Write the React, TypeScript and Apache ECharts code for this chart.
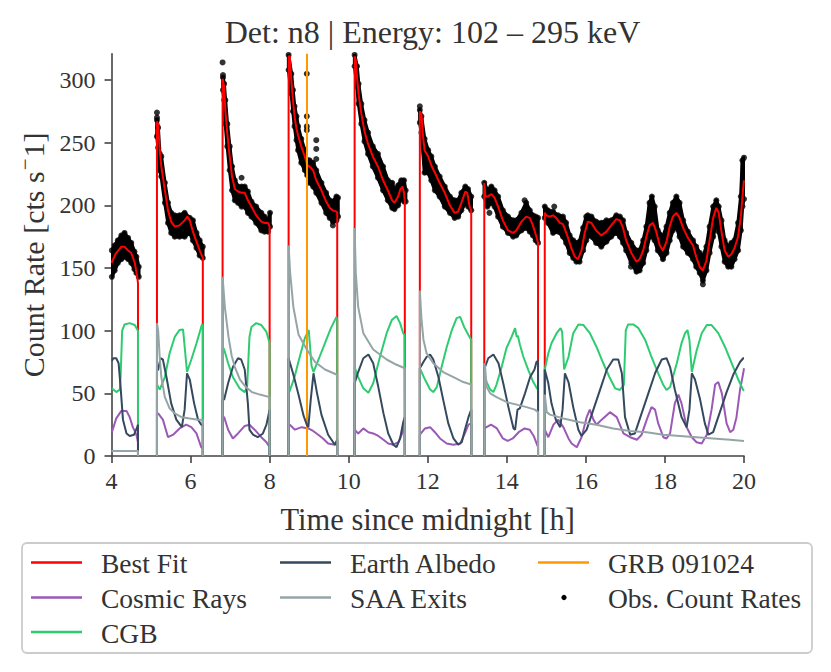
import React, { useEffect, useRef } from "react";
import * as echarts from "echarts";

const FONT = "'Liberation Serif', 'Times New Roman', serif";
const TEXT = "#333333";
const AXIS = "#444444";

const titleText = "Det: n8 | Energy: 102 – 295 keV";
const xName = "Time since midnight [h]";
const yNameMain = "Count Rate [cts s";
const yNameSup = "−";
const yNameEnd = "1]";
const xTicks = [4, 6, 8, 10, 12, 14, 16, 18, 20];
const yTicks = [0, 50, 100, 150, 200, 250, 300];
const grbTime = 8.94;

const legendCol1 = ["Best Fit", "Cosmic Rays", "CGB"];
const legendCol2 = ["Earth Albedo", "SAA Exits"];
const legendCol3 = ["GRB 091024", "Obs. Count Rates"];

const COLORS: Record<string, string> = {
  "Best Fit": "#ff0000",
  "Cosmic Rays": "#9b59b6",
  CGB: "#2ecc71",
  "Earth Albedo": "#34495e",
  "SAA Exits": "#95a5a6",
  "GRB 091024": "#ff9900",
  "Obs. Count Rates": "#000000",
};

const bestFit = [
  [4.0, 154], [4.1, 161], [4.25, 167], [4.33, 167], [4.42, 164], [4.5, 162], [4.59, 154], [4.65, 143], [4.67, 138], [4.67, 0], [4.9, null],
  [5.15, 0], [5.15, 267], [5.18, 265], [5.22, 244], [5.26, 231], [5.35, 212], [5.43, 196], [5.51, 187], [5.6, 183], [5.72, 184], [5.85, 188], [5.92, 191], [5.98, 188], [6.06, 179], [6.15, 171], [6.23, 164], [6.31, 158], [6.31, 0], [6.55, null],
  [6.81, 0], [6.81, 301], [6.85, 295], [6.88, 276], [6.93, 257], [6.99, 239], [7.05, 223], [7.12, 213], [7.2, 211], [7.29, 210], [7.37, 210], [7.45, 204], [7.54, 199], [7.66, 192], [7.79, 187], [7.87, 186], [7.96, 186], [8.0, 183], [8.0, 0], [8.25, null],
  [8.48, 0], [8.48, 319], [8.51, 319], [8.55, 300], [8.59, 284], [8.63, 271], [8.68, 261], [8.72, 256], [8.8, 247], [8.89, 239], [8.95, 232], [9.01, 231], [9.1, 228], [9.18, 220], [9.31, 212], [9.43, 203], [9.52, 198], [9.6, 196], [9.69, 195], [9.71, 194], [9.71, 0], [9.9, null],
  [10.15, 0], [10.15, 319], [10.18, 316], [10.21, 303], [10.25, 289], [10.32, 273], [10.4, 259], [10.49, 249], [10.61, 239], [10.74, 231], [10.87, 220], [10.99, 212], [11.1, 204], [11.16, 202], [11.25, 207], [11.31, 213], [11.36, 215], [11.4, 210], [11.42, 203], [11.42, 0], [11.6, null],
  [11.8, 0], [11.8, 275], [11.84, 273], [11.88, 255], [11.92, 244], [12.01, 239], [12.09, 232], [12.18, 226], [12.3, 218], [12.43, 210], [12.56, 200], [12.68, 194], [12.77, 195], [12.85, 202], [12.95, 211], [13.0, 210], [13.06, 199], [13.1, 196], [13.1, 0], [13.25, null],
  [13.43, 0], [13.43, 218], [13.46, 207], [13.51, 207], [13.61, 209], [13.69, 206], [13.78, 199], [13.9, 188], [14.03, 180], [14.16, 178], [14.24, 180], [14.37, 187], [14.49, 191], [14.58, 190], [14.66, 184], [14.75, 175], [14.79, 170], [14.79, 0], [14.88, null],
  [14.96, 0], [14.96, 194], [15.0, 192], [15.08, 191], [15.17, 192], [15.25, 190], [15.34, 186], [15.42, 185], [15.48, 180], [15.55, 174], [15.63, 166], [15.72, 159], [15.8, 157], [15.89, 164], [15.97, 178], [16.05, 187], [16.14, 186], [16.26, 180], [16.39, 176], [16.52, 179], [16.64, 184], [16.77, 189], [16.86, 188], [16.94, 182], [17.02, 172], [17.15, 162], [17.28, 155], [17.36, 157], [17.45, 164], [17.53, 175], [17.61, 184], [17.7, 186], [17.78, 179], [17.87, 168], [17.95, 164], [18.04, 171], [18.12, 183], [18.2, 191], [18.29, 194], [18.37, 190], [18.46, 182], [18.58, 174], [18.71, 168], [18.79, 159], [18.88, 151], [18.96, 148], [19.05, 156], [19.13, 172], [19.22, 190], [19.3, 198], [19.36, 194], [19.43, 179], [19.51, 164], [19.6, 159], [19.68, 161], [19.76, 166], [19.85, 175], [19.92, 191], [19.98, 214], [20.0, 220],
];

const cosmicRays = [
  [4.01, 19], [4.12, 30], [4.25, 36], [4.38, 36], [4.46, 31], [4.54, 23], [4.63, 17], [4.67, 11], [4.67, 0], [4.9, null],
  [5.15, 0], [5.15, 34], [5.18, 34], [5.3, 29], [5.43, 15], [5.56, 17], [5.72, 22], [5.89, 25], [6.02, 23], [6.15, 18], [6.27, 7], [6.31, 6], [6.31, 0], [6.55, null],
  [6.81, 0], [6.81, 31], [6.85, 31], [6.95, 21], [7.07, 14], [7.2, 18], [7.37, 24], [7.49, 25], [7.62, 21], [7.79, 15], [7.92, 11], [8.0, 7], [8.0, 0], [8.25, null],
  [8.48, 0], [8.48, 25], [8.51, 25], [8.64, 21], [8.81, 23], [8.98, 22], [9.1, 20], [9.23, 17], [9.35, 14], [9.48, 10], [9.65, 9], [9.71, 11], [9.71, 0], [9.9, null],
  [10.15, 0], [10.15, 21], [10.16, 21], [10.24, 18], [10.37, 22], [10.5, 19], [10.62, 18], [10.75, 16], [10.88, 13], [11.0, 10], [11.13, 9], [11.26, 11], [11.34, 17], [11.41, 24], [11.42, 0], [11.6, null],
  [11.8, 0], [11.8, 17], [11.93, 22], [12.06, 23], [12.18, 19], [12.31, 14], [12.48, 10], [12.65, 9], [12.82, 10], [12.94, 18], [13.03, 25], [13.1, 26], [13.1, 0], [13.25, null],
  [13.43, 0], [13.43, 22], [13.6, 25], [13.75, 22], [13.9, 14], [14.02, 12], [14.15, 14], [14.3, 19], [14.45, 22], [14.58, 21], [14.68, 16], [14.79, 7], [14.79, 0], [14.88, null],
  [14.96, 0], [14.96, 21], [15.05, 15], [15.18, 25], [15.3, 29], [15.43, 23], [15.56, 14], [15.64, 10], [15.77, 7], [15.89, 15], [16.02, 31], [16.1, 37], [16.19, 29], [16.27, 25], [16.4, 29], [16.61, 35], [16.78, 31], [16.95, 18], [17.12, 15], [17.29, 13], [17.41, 17], [17.54, 29], [17.66, 39], [17.75, 37], [17.83, 26], [17.96, 15], [18.04, 14], [18.13, 18], [18.25, 42], [18.34, 49], [18.42, 42], [18.55, 23], [18.68, 15], [18.8, 11], [18.93, 10], [19.06, 17], [19.18, 37], [19.27, 57], [19.35, 59], [19.44, 50], [19.56, 26], [19.65, 19], [19.73, 21], [19.81, 31], [19.9, 53], [19.98, 66], [20.0, 70],
];

const cgb = [
  [4.01, 54], [4.12, 51], [4.21, 53], [4.23, 63], [4.27, 100], [4.33, 105], [4.46, 106], [4.59, 104.5], [4.65, 101], [4.67, 100], [4.67, 0], [4.9, null],
  [5.15, 0], [5.15, 57], [5.22, 53], [5.35, 63], [5.47, 82], [5.6, 95], [5.72, 100.5], [5.81, 101], [5.91, 67], [6.02, 77], [6.15, 90], [6.29, 105], [6.31, 104], [6.31, 0], [6.55, null],
  [6.81, 0], [6.81, 87], [6.85, 85], [6.95, 74], [7.07, 63], [7.24, 54], [7.37, 51], [7.43, 55], [7.49, 95], [7.54, 103], [7.66, 106], [7.79, 104.5], [7.92, 99], [8.0, 90], [8.0, 0], [8.25, null],
  [8.48, 0], [8.48, 51], [8.51, 52], [8.63, 63], [8.76, 79], [8.89, 94], [8.99, 100.5], [9.06, 72], [9.11, 67], [9.25, 78], [9.4, 90], [9.55, 102], [9.69, 111], [9.71, 108], [9.71, 0], [9.9, null],
  [10.15, 0], [10.15, 71], [10.16, 71], [10.24, 63], [10.37, 54], [10.5, 50.5], [10.62, 58], [10.79, 79], [10.96, 98], [11.09, 108.5], [11.21, 111.7], [11.3, 106], [11.38, 98], [11.41, 96.5], [11.42, 0], [11.6, null],
  [11.8, 0], [11.8, 70], [11.93, 61], [12.06, 53], [12.14, 51], [12.23, 55], [12.35, 71], [12.48, 87], [12.61, 100.5], [12.73, 110], [12.82, 111], [12.92, 103], [13.03, 96.5], [13.1, 92.6], [13.1, 0], [13.25, null],
  [13.43, 0], [13.43, 66], [13.49, 59], [13.58, 53], [13.66, 51], [13.74, 57], [13.87, 71], [13.99, 86], [14.12, 95], [14.21, 102], [14.25, 95], [14.28, 96], [14.33, 89], [14.42, 79], [14.54, 69], [14.67, 59], [14.76, 54], [14.79, 53], [14.79, 0], [14.88, null],
  [14.96, 0], [14.96, 69], [15.05, 82], [15.13, 90], [15.26, 98], [15.36, 102], [15.4, 99], [15.45, 69], [15.56, 79], [15.68, 98], [15.81, 105], [15.94, 104.5], [16.1, 98], [16.27, 87], [16.44, 74], [16.61, 62], [16.74, 54], [16.86, 52.7], [16.96, 56.6], [17.01, 100.5], [17.07, 105], [17.2, 105], [17.33, 102], [17.5, 92.6], [17.66, 79], [17.83, 66], [17.96, 56.6], [18.04, 52.7], [18.13, 55], [18.3, 74], [18.42, 90], [18.51, 98], [18.57, 100.5], [18.62, 92.6], [18.68, 67], [18.8, 84], [18.93, 98], [19.06, 104.5], [19.18, 104.5], [19.35, 98], [19.52, 87], [19.69, 74], [19.86, 60.6], [19.98, 52.7], [20.0, 52],
];

const earthAlbedo = [
  [4.01, 76], [4.05, 78], [4.12, 78], [4.18, 74], [4.23, 55], [4.29, 29], [4.38, 18], [4.46, 16], [4.57, 17], [4.65, 23], [4.67, 25], [4.67, 0], [4.9, null],
  [5.15, 0], [5.15, 68], [5.18, 69], [5.24, 78], [5.3, 77], [5.39, 63], [5.51, 42], [5.64, 29], [5.78, 23], [5.85, 37], [5.91, 66], [5.98, 61], [6.09, 42], [6.19, 29], [6.27, 25], [6.31, 25], [6.31, 0], [6.55, null],
  [6.81, 0], [6.81, 45], [6.85, 45], [6.95, 58], [7.07, 71], [7.2, 78], [7.28, 77], [7.37, 69], [7.45, 42], [7.49, 21], [7.58, 17], [7.7, 15], [7.83, 18], [7.92, 25], [8.0, 37], [8.0, 0], [8.25, null],
  [8.48, 0], [8.48, 78], [8.49, 78], [8.6, 65], [8.73, 49], [8.86, 32], [8.94, 25], [8.98, 23], [9.04, 45], [9.11, 66], [9.2, 50], [9.31, 33], [9.48, 17], [9.65, 9], [9.71, 13], [9.71, 0], [9.9, null],
  [10.15, 0], [10.15, 58], [10.16, 58], [10.24, 67], [10.37, 78], [10.5, 81], [10.62, 74], [10.75, 55], [10.88, 34], [11.0, 18], [11.13, 9], [11.21, 7], [11.3, 14], [11.38, 27], [11.42, 31], [11.42, 0], [11.6, null],
  [11.8, 0], [11.8, 70], [11.89, 75], [11.97, 79], [12.06, 81], [12.14, 77], [12.27, 63], [12.39, 45], [12.52, 26], [12.65, 14], [12.77, 9], [12.86, 11], [12.94, 21], [13.03, 31], [13.1, 37], [13.1, 0], [13.25, null],
  [13.43, 0], [13.43, 71], [13.45, 71], [13.53, 78], [13.66, 81], [13.79, 74], [13.91, 58], [14.04, 39], [14.17, 22], [14.21, 21], [14.27, 37], [14.33, 38], [14.46, 50], [14.59, 63], [14.7, 69], [14.75, 75], [14.79, 76], [14.79, 0], [14.88, null],
  [14.96, 0], [14.96, 69], [15.05, 58], [15.13, 42], [15.24, 29], [15.35, 23], [15.41, 37], [15.47, 66], [15.56, 59], [15.68, 39], [15.81, 21], [15.89, 16], [16.02, 21], [16.19, 37], [16.36, 53], [16.53, 69], [16.69, 77], [16.82, 77], [16.91, 66], [16.99, 31], [17.12, 17], [17.24, 18], [17.41, 34], [17.58, 50], [17.75, 66], [17.92, 77], [18.04, 78], [18.13, 71], [18.25, 53], [18.42, 31], [18.55, 23], [18.62, 37], [18.68, 66], [18.76, 61], [18.89, 45], [19.01, 26], [19.1, 17], [19.22, 19], [19.39, 35], [19.56, 51], [19.73, 65], [19.9, 75], [19.98, 78], [20.0, 78],
];

const saaExits = [
  [4.0, 4], [4.67, 4], [4.67, 0], [4.9, null],
  [5.15, 0], [5.15, 106], [5.18, 100], [5.22, 79], [5.26, 63], [5.35, 47], [5.47, 38], [5.6, 34], [5.77, 31], [5.98, 30], [6.19, 29], [6.31, 29], [6.31, 0], [6.55, null],
  [6.81, 0], [6.81, 143], [6.87, 118], [6.96, 95], [7.04, 80], [7.12, 71], [7.25, 61], [7.4, 55], [7.55, 51], [7.75, 49], [8.0, 47], [8.0, 0], [8.25, null],
  [8.48, 0], [8.48, 168], [8.52, 146], [8.6, 119], [8.73, 97], [8.94, 85], [9.15, 75], [9.4, 69], [9.69, 65], [9.71, 64], [9.71, 0], [9.9, null],
  [10.15, 0], [10.15, 182], [10.18, 146], [10.24, 119], [10.37, 98], [10.62, 85], [10.96, 77], [11.2, 73], [11.42, 70], [11.42, 0], [11.6, null],
  [11.8, 0], [11.8, 132], [11.84, 110], [11.89, 93], [11.97, 82], [12.14, 74], [12.39, 67], [12.65, 63], [12.9, 59], [13.1, 57], [13.1, 0], [13.25, null],
  [13.43, 0], [13.43, 74], [13.45, 71], [13.49, 55], [13.58, 50], [13.74, 47], [14.0, 43], [14.25, 41], [14.5, 39], [14.71, 37], [14.79, 35], [14.79, 0], [14.88, null],
  [14.96, 0], [14.96, 49], [15.01, 35], [15.09, 33], [15.43, 30], [15.85, 27], [16.27, 25], [16.69, 22], [17.12, 20], [17.54, 19], [17.96, 17], [18.38, 16], [18.8, 15], [19.22, 14], [19.65, 13], [20.0, 12],
];

// Observed count rates: [time, lower edge of the point cloud, upper edge of the point cloud]
const obsBand = [
  [4.01, 143, 164], [4.08, 148, 168], [4.16, 154, 172], [4.25, 157, 176], [4.33, 159, 178], [4.42, 157, 174], [4.5, 154, 170], [4.58, 149, 163], [4.63, 146, 159], [4.69, 143, 151],
  [5.15, 255, 268], [5.18, 246, 262], [5.22, 228, 241], [5.26, 223, 239], [5.35, 202, 218], [5.43, 186, 202], [5.51, 178, 194], [5.6, 175, 192], [5.72, 175, 192], [5.85, 175, 194], [5.98, 178, 190], [6.06, 172, 188], [6.15, 166, 178], [6.23, 160, 172], [6.31, 158, 167],
  [6.82, 292, 302], [6.85, 284, 297], [6.88, 265, 284], [6.93, 247, 265], [6.99, 228, 247], [7.05, 212, 231], [7.12, 204, 220], [7.2, 202, 215], [7.29, 199, 215], [7.37, 199, 215], [7.45, 194, 211], [7.54, 191, 203], [7.66, 186, 199], [7.79, 180, 194], [7.87, 179, 191], [7.96, 179, 188], [8.01, 183, 194],
  [8.48, 308, 320], [8.55, 289, 305], [8.59, 275, 292], [8.63, 263, 279], [8.68, 252, 271], [8.72, 244, 263], [8.8, 234, 253], [8.89, 228, 244], [8.95, 224, 236], [9.01, 218, 236], [9.1, 215, 234], [9.18, 210, 228], [9.31, 202, 218], [9.43, 194, 210], [9.52, 190, 204], [9.6, 187, 203], [9.69, 188, 207], [9.73, 191, 206],
  [10.15, 311, 320], [10.21, 295, 311], [10.25, 281, 297], [10.32, 265, 281], [10.4, 251, 268], [10.49, 241, 258], [10.61, 231, 247], [10.74, 222, 241], [10.87, 212, 231], [10.99, 204, 220], [11.1, 198, 218], [11.16, 197, 212], [11.25, 200, 216], [11.33, 206, 220], [11.4, 203, 220], [11.44, 203, 212],
  [11.8, 266, 276], [11.84, 258, 271], [11.92, 226, 253], [12.01, 226, 244], [12.09, 220, 239], [12.18, 212, 231], [12.3, 207, 223], [12.43, 199, 215], [12.56, 194, 207], [12.68, 190, 204], [12.77, 191, 204], [12.85, 196, 210], [12.95, 202, 215], [13.02, 199, 213], [13.1, 196, 207],
  [13.43, 207, 218], [13.51, 199, 212], [13.61, 202, 215], [13.69, 199, 212], [13.78, 191, 207], [13.9, 183, 196], [14.03, 178, 191], [14.16, 175, 188], [14.24, 176, 188], [14.37, 180, 194], [14.49, 182, 202], [14.58, 179, 196], [14.66, 176, 192], [14.73, 172, 191], [14.79, 170, 190],
  [14.96, 190, 199], [15.04, 186, 196], [15.17, 178, 195], [15.3, 179, 192], [15.42, 175, 191], [15.5, 170, 186], [15.59, 162, 176], [15.68, 158, 172], [15.76, 155, 170], [15.84, 155, 171], [15.93, 164, 182], [16.01, 172, 191], [16.05, 176, 192], [16.14, 175, 191], [16.26, 170, 187], [16.39, 167, 186], [16.52, 171, 188], [16.64, 175, 188], [16.77, 178, 192], [16.86, 175, 191], [16.94, 170, 188], [17.02, 164, 178], [17.15, 154, 170], [17.28, 147, 164], [17.36, 148, 164], [17.45, 154, 172], [17.53, 164, 183], [17.61, 175, 202], [17.67, 175, 207], [17.74, 172, 199], [17.82, 164, 180], [17.95, 157, 175], [18.04, 162, 183], [18.12, 172, 194], [18.2, 180, 202], [18.29, 183, 207], [18.37, 175, 202], [18.46, 167, 188], [18.58, 162, 179], [18.71, 157, 172], [18.79, 151, 167], [18.88, 146, 162], [18.96, 140, 159], [19.05, 148, 167], [19.13, 162, 183], [19.22, 175, 199], [19.3, 186, 204], [19.36, 179, 199], [19.43, 167, 188], [19.51, 155, 172], [19.6, 151, 167], [19.68, 151, 170], [19.76, 157, 172], [19.85, 164, 186], [19.92, 180, 207], [19.96, 199, 236], [20.0, 205, 238],
];

const obsOutliers = [
  [5.15, 274], [5.15, 270], [6.81, 314], [6.82, 304], [7.29, 222], [8.94, 305], [8.94, 271], [8.94, 263], [8.94, 260],
  [9.18, 252], [9.18, 245], [9.18, 237], [9.6, 184], [11.8, 279], [13.56, 194], [14.45, 204], [15.2, 199], [17.14, 151], [18.96, 137],
];

function lineSeries(name: string, data: any[], z: number) {
  return {
    type: "line",
    name,
    data,
    z,
    showSymbol: false,
    symbol: "none",
    clip: true,
    silent: true,
    connectNulls: false,
    lineStyle: { color: COLORS[name], width: 2 },
    itemStyle: { color: COLORS[name] },
  };
}

function legendGraphics() {
  const cols = [
    { items: legendCol1, lineX: 31, textX: 101 },
    { items: legendCol2, lineX: 280, textX: 350 },
    { items: legendCol3, lineX: 538, textX: 608 },
  ];
  const rowY = [562.5, 597.5, 632];
  const els: any[] = [
    {
      type: "rect",
      shape: { x: 22, y: 543, width: 790, height: 110, r: 5 },
      style: { fill: "#ffffff", stroke: "#cccccc", lineWidth: 1.8 },
      z: 10,
    },
  ];
  cols.forEach((c) => {
    c.items.forEach((name, r) => {
      const y = rowY[r];
      if (name === "Obs. Count Rates") {
        els.push({ type: "circle", shape: { cx: c.lineX + 26, cy: y, r: 2.6 }, style: { fill: "#000" }, z: 11 });
      } else {
        els.push({
          type: "line",
          shape: { x1: c.lineX, y1: y, x2: c.lineX + 51, y2: y },
          style: { stroke: COLORS[name], lineWidth: 2.5 },
          z: 11,
        });
      }
      els.push({
        type: "text",
        x: c.textX,
        y: y + 1,
        style: { text: name, fontFamily: FONT, fontSize: 27.5, fill: TEXT, verticalAlign: "middle", align: "left" },
        z: 11,
      });
    });
  });
  return els;
}

export default function App() {
  const ref = useRef<HTMLDivElement>(null);
  useEffect(() => {
    if (!ref.current) return;
    const chart = echarts.init(ref.current, null, { renderer: "svg" });
    const scatterData = obsBand
      .flatMap((r) => [[r[0], r[1]], [r[0], r[2]]])
      .concat(obsOutliers);
    const option: any = {
      animation: false,
      backgroundColor: "#ffffff",
      textStyle: { fontFamily: FONT },
      title: {
        text: titleText,
        left: 427.5,
        top: 11,
        textAlign: "center",
        textStyle: { fontFamily: FONT, fontSize: 32, fontWeight: "normal", color: TEXT },
      },
      grid: { left: 111.5, right: 87, top: 53.7, bottom: 216, containLabel: false },
      xAxis: {
        type: "value",
        min: 4,
        max: 20,
        interval: 2,
        name: xName,
        nameLocation: "middle",
        nameGap: 48,
        nameTextStyle: { fontFamily: FONT, fontSize: 30.5, color: TEXT },
        axisLine: { show: true, onZero: false, lineStyle: { color: AXIS, width: 1.6 } },
        axisTick: { show: true, length: 7, inside: false, customValues: xTicks, lineStyle: { color: AXIS, width: 1.6 } },
        axisLabel: { margin: 13, fontFamily: FONT, fontSize: 24, color: TEXT, customValues: xTicks },
        splitLine: { show: false },
      },
      yAxis: {
        type: "value",
        min: 0,
        max: 321,
        interval: 50,
        name: "{n|" + yNameMain + "}{s|" + yNameSup + "}{n|" + yNameEnd + "}",
        nameLocation: "middle",
        nameRotate: 90,
        nameGap: 62,
        nameTextStyle: {
          fontFamily: FONT,
          fontSize: 30,
          color: TEXT,
          rich: {
            n: { fontFamily: FONT, fontSize: 30, color: TEXT, lineHeight: 34, verticalAlign: "bottom" },
            s: { fontFamily: FONT, fontSize: 21, color: TEXT, lineHeight: 34, verticalAlign: "top", padding: [0, 1, 0, 1] },
          },
        },
        axisLine: { show: true, lineStyle: { color: AXIS, width: 1.6 } },
        axisTick: { show: true, length: 7, inside: false, customValues: yTicks, lineStyle: { color: AXIS, width: 1.6 } },
        axisLabel: { margin: 16, fontFamily: FONT, fontSize: 24, color: TEXT, customValues: yTicks },
        splitLine: { show: false },
      },
      series: [
        {
          type: "custom",
          name: "Obs. Count Rates band",
          data: obsBand,
          encode: { x: 0, y: [1, 2] },
          z: 1,
          clip: true,
          silent: true,
          renderItem: (params: any, api: any) => {
            const i = params.dataIndex;
            const a = obsBand[i];
            const b = obsBand[i + 1];
            if (!b || b[0] - a[0] > 0.15) return { type: "group", children: [] };
            const pts = [
              api.coord([a[0], a[2]]),
              api.coord([b[0], b[2]]),
              api.coord([b[0], b[1]]),
              api.coord([a[0], a[1]]),
            ];
            return {
              type: "polygon",
              shape: { points: pts },
              style: { fill: "#000000", stroke: "#000000", lineWidth: 3.5, lineJoin: "round" },
            };
          },
        },
        {
          type: "scatter",
          name: "Obs. Count Rates",
          data: scatterData,
          z: 1,
          symbol: "circle",
          symbolSize: 6,
          silent: true,
          itemStyle: { color: "#000000" },
        },
        lineSeries("Best Fit", bestFit, 2),
        lineSeries("Cosmic Rays", cosmicRays, 3),
        lineSeries("CGB", cgb, 4),
        lineSeries("Earth Albedo", earthAlbedo, 5),
        lineSeries("SAA Exits", saaExits, 6),
        {
          type: "line",
          name: "GRB 091024",
          data: [],
          z: 7,
          markLine: {
            silent: true,
            symbol: ["none", "none"],
            label: { show: false },
            lineStyle: { color: COLORS["GRB 091024"], width: 2, type: "solid" },
            data: [{ xAxis: grbTime }],
          },
        },
      ],
      graphic: legendGraphics(),
    };
    chart.setOption(option);
    return () => chart.dispose();
  }, []);
  return (
    <div
      ref={ref}
      style={{ position: "fixed", left: 0, top: 0, width: 831, height: 672, background: "#ffffff" }}
    />
  );
}
